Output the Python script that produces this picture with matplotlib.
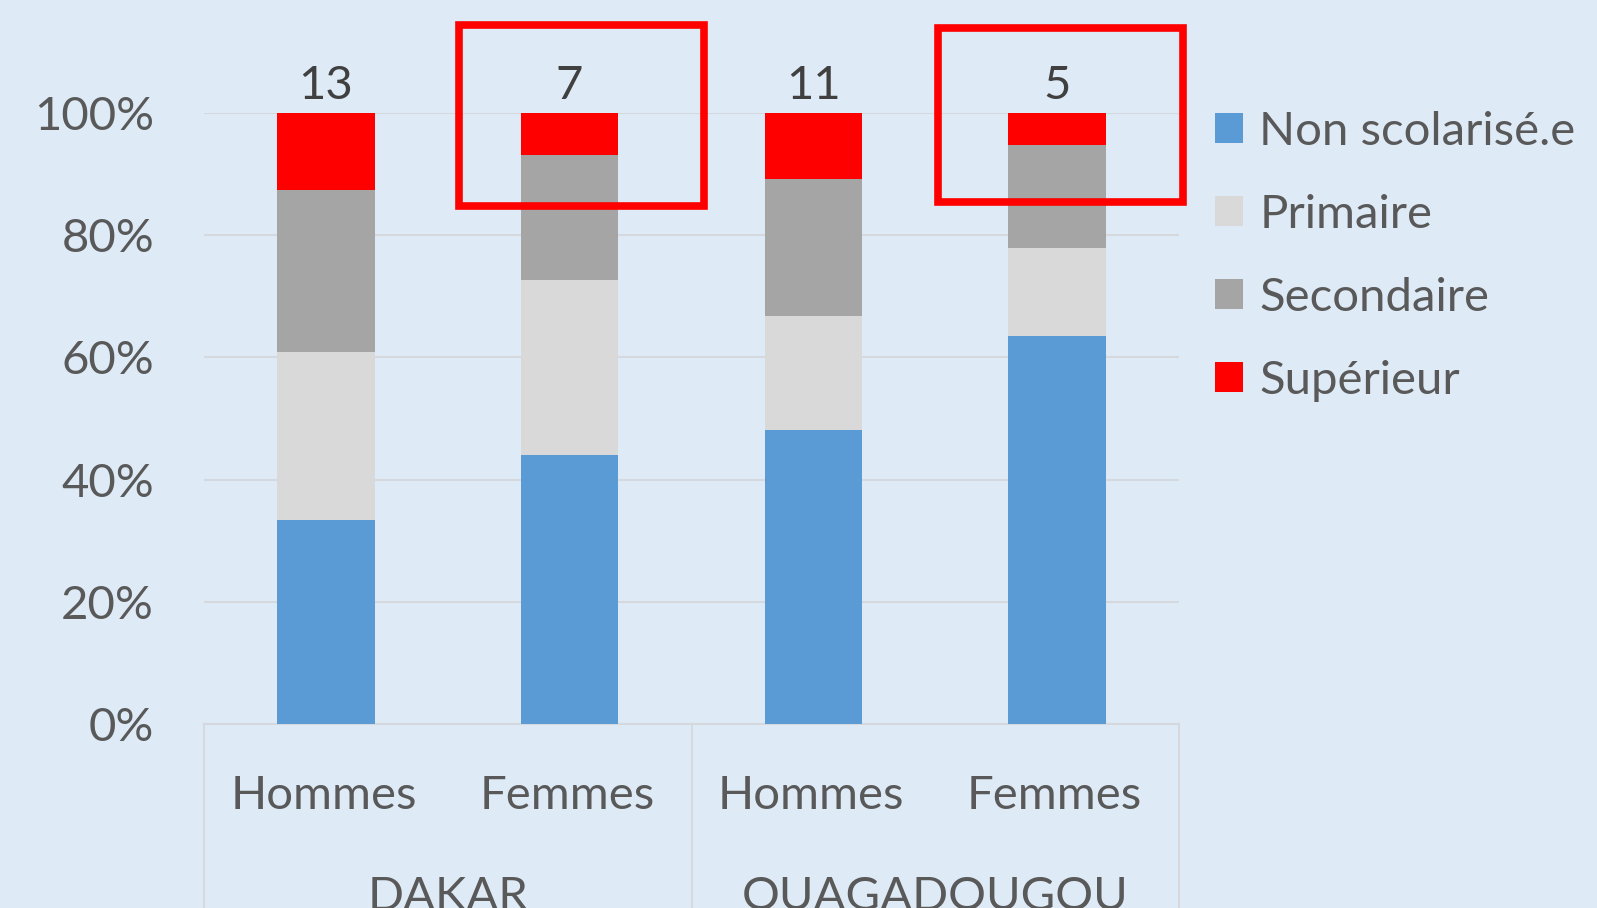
import matplotlib
matplotlib.use('Agg')
import matplotlib.pyplot as plt
from matplotlib.patches import Rectangle, Patch
from matplotlib.ticker import FuncFormatter

# ---- data ----
cities = ['DAKAR', 'OUAGADOUGOU']
groups = ['Hommes', 'Femmes', 'Hommes', 'Femmes']
series_names = ['Non scolarisé.e', 'Primaire', 'Secondaire', 'Supérieur']
non_scol = [33.4, 44.1, 48.1, 63.5]
primaire = [27.5, 28.5, 18.7, 14.4]
secondaire = [26.5, 20.6, 22.4, 16.9]
superieur = [12.6, 6.8, 10.8, 5.2]
top_labels = ['13', '7', '11', '5']
yticks = [0, 20, 40, 60, 80, 100]
highlight = [1, 3]

colors = ['#5B9BD5', '#D9D9D9', '#A5A5A5', '#FF0000']
bg = '#DEEBF7'
txt = '#595959'
grid_c = '#D5D9DE'

plt.rcParams['font.family'] = ['Lato', 'DejaVu Sans']

fig = plt.figure(figsize=(15.97, 9.08), dpi=100, facecolor=bg)
ax = fig.add_axes([204/1597, 1-724/908, (1179-204)/1597, (724-113)/908])
ax.set_facecolor(bg)

x = list(range(len(groups)))
series = [non_scol, primaire, secondaire, superieur]
bottom = [0]*len(x)
handles = []
for vals, name, col in zip(series, series_names, colors):
    ax.bar(x, vals, bottom=bottom, width=0.4, color=col, zorder=3, label=name)
    handles.append(Patch(facecolor=col, label=name))
    bottom = [b+v for b, v in zip(bottom, vals)]

for xi, tot, lab in zip(x, bottom, top_labels):
    ax.text(xi, tot + 4.4, lab, ha='center', va='center', fontsize=34, color='#404040', zorder=4)

ax.set_xlim(-0.5, len(x)-0.5)
ax.set_ylim(0, 100)
ax.set_yticks(yticks)
ax.yaxis.set_major_formatter(FuncFormatter(lambda v, p: f'{int(v)}%'))
ax.tick_params(axis='y', length=0, pad=36, labelsize=34, labelcolor=txt)
ax.set_xticks([])
ax.grid(axis='y', color=grid_c, linewidth=1.5, zorder=0)
for s in ax.spines.values():
    s.set_visible(False)
ax.axhline(0, color=grid_c, linewidth=1.5, zorder=2, clip_on=False)

# category labels
for xi, g in zip(x, groups):
    ax.text(xi - 0.01, -11.8, g, ha='center', va='center', fontsize=34, color=txt, clip_on=False)
for ci, c in enumerate(cities):
    ax.text(ci*2 + 0.5, -28.3, c, ha='center', va='center', fontsize=34, color=txt, clip_on=False)
for sx in [-0.5, 1.5, 3.5]:
    ax.plot([sx, sx], [0, -40], color=grid_c, linewidth=1.5, clip_on=False, zorder=2)

# highlight boxes (center x offset, bottom, top)
box_geom = [(1.049, 84.7, 114.4), (3.015, 85.4, 113.9)]
for i, (cx, yb, yt) in zip(highlight, box_geom):
    ax.add_patch(Rectangle((cx - 0.503, yb), 1.006, yt - yb, fill=False, edgecolor='#FF0000',
                           linewidth=5.5, clip_on=False, zorder=5))

leg = ax.legend(handles=handles, loc='upper left', bbox_to_anchor=(0.7605, 0.878),
                bbox_transform=fig.transFigure, frameon=False, fontsize=34,
                handlelength=0.6, handleheight=0.6, handletextpad=0.35,
                labelspacing=0.87, borderaxespad=0, borderpad=0, labelcolor=txt)

fig.savefig('out.png', dpi=100, facecolor=bg)
